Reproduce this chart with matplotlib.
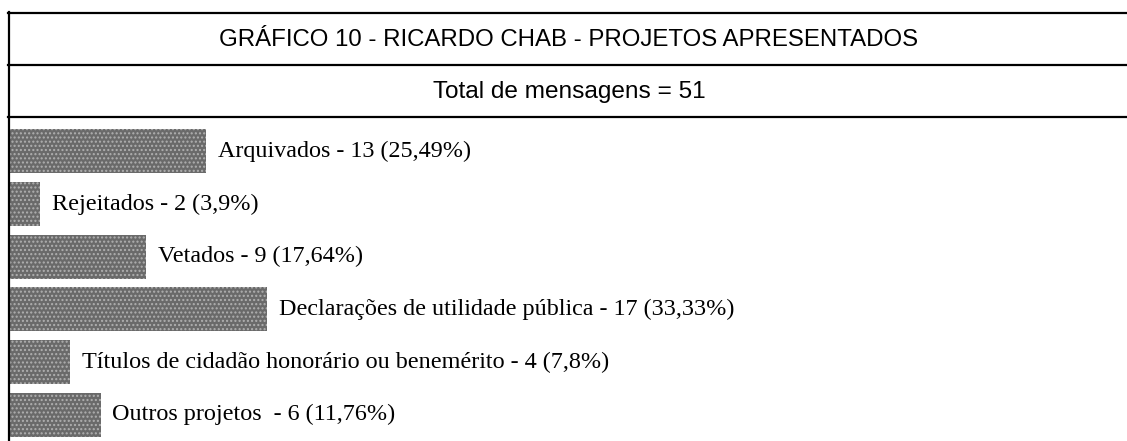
import matplotlib
matplotlib.use("Agg")
import matplotlib.pyplot as plt
from matplotlib.lines import Line2D

# ---- data ----
title = "GRÁFICO 10 - RICARDO CHAB - PROJETOS APRESENTADOS"
subtitle = "Total de mensagens = 51"
categories = [
    "Arquivados",
    "Rejeitados",
    "Vetados",
    "Declarações de utilidade pública",
    "Títulos de cidadão honorário ou benemérito",
    "Outros projetos ",
]
counts = [13, 2, 9, 17, 4, 6]
percent_labels = ["25,49%", "3,9%", "17,64%", "33,33%", "7,8%", "11,76%"]

# ---- figure ----
W, H = 1127, 441
fig = plt.figure(figsize=(W / 100, H / 100), dpi=100)
fig.patch.set_facecolor("white")

def fy(px):
    return 1 - px / H

def fx(px):
    return px / W

# frame lines (header rows + left border)
line_kw = dict(color="black", linewidth=1.6, transform=fig.transFigure)
for ypx in (13, 65, 117):
    fig.add_artist(Line2D([fx(8), 1.0], [fy(ypx), fy(ypx)], **line_kw))
fig.add_artist(Line2D([fx(9), fx(9)], [fy(12), 0.0], **line_kw))

fig.text(fx(569), fy(40), title, ha="center", va="center",
         fontsize=17.3, family="Liberation Sans", color="black")
fig.text(fx(569), fy(92), subtitle, ha="center", va="center",
         fontsize=17.6, family="Liberation Sans", color="black")

# bar area
left_px, top_px = 10, 125
ax = fig.add_axes([fx(left_px), 0, 1 - fx(left_px), fy(top_px)])
ax.set_axis_off()
px_per_unit = 15.1
ax.set_xlim(0, (W - left_px) / px_per_unit)
ax.set_ylim(len(categories) - 0.5, -0.5)

ypos = list(range(len(categories)))
ax.barh(ypos, counts, height=0.84, color="#6a6a6a", edgecolor="#b0b0b0",
        linewidth=0, hatch="....")

for y, c, cat, p in zip(ypos, counts, categories, percent_labels):
    ax.annotate(f"{cat} - {c} ({p})", xy=(c, y), xytext=(8.5, 0),
                textcoords="offset points", ha="left", va="center",
                fontsize=17.4, family="Liberation Serif", color="black")

fig.savefig("out.png", dpi=100, facecolor="white")
